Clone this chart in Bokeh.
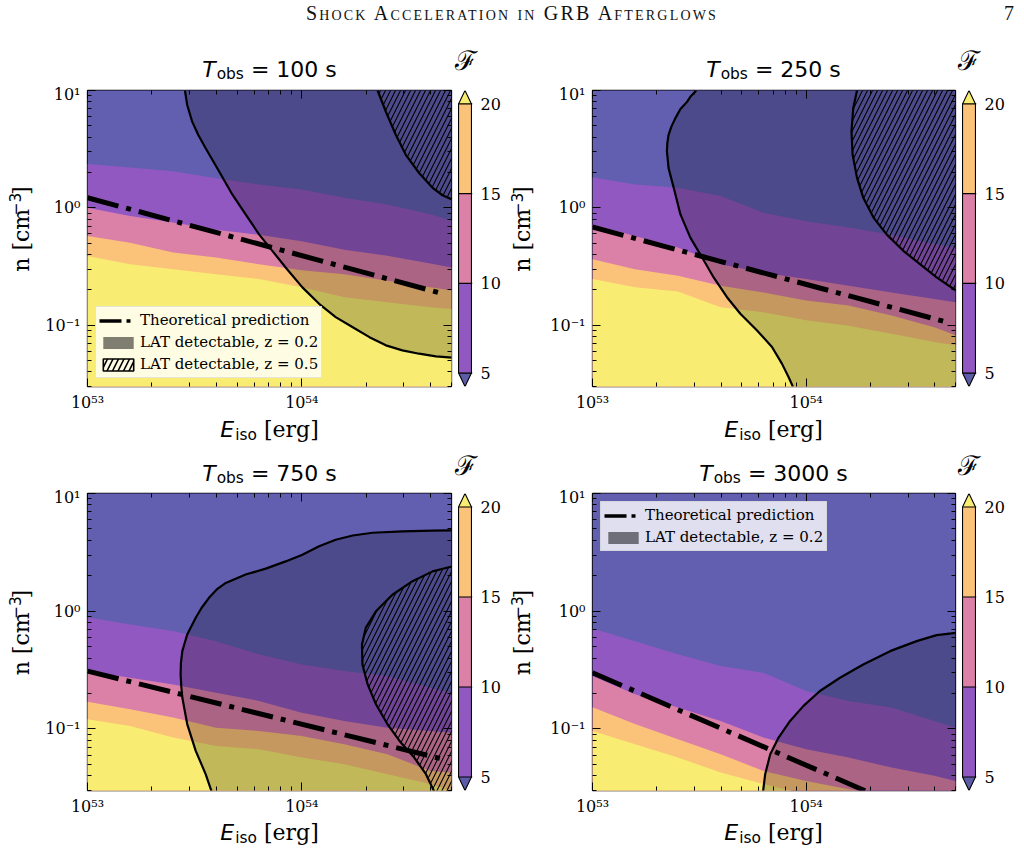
import math
from bokeh.plotting import figure
from bokeh.layouts import row, column
from bokeh.models import (Range1d, FixedTicker, LogAxis, Legend, LegendItem,
                          CustomJSTickFormatter, Div)
from bokeh.core.properties import value
from bokeh.embed import file_html
from bokeh.resources import INLINE

# ---------------------------------------------------------------- data
E_RANGE = (1.0e53, 5.0e54)          # E_iso [erg]
N_RANGE = (0.03, 10.0)              # n [cm^-3]

E_MAJOR = [1e53, 1e54]
E_MINOR = [2e53, 3e53, 4e53, 5e53, 6e53, 7e53, 8e53, 9e53, 2e54, 3e54, 4e54, 5e54]
N_MAJOR = [0.1, 1.0, 10.0]
N_MINOR = [0.03, 0.04, 0.05, 0.06, 0.07, 0.08, 0.09,
           0.2, 0.3, 0.4, 0.5, 0.6, 0.7, 0.8, 0.9,
           2, 3, 4, 5, 6, 7, 8, 9]

CB_LEVELS = [5, 10, 15, 20]          # F contour levels

T_OBS = ["100", "250", "750", "3000"]

# energy grid on which the F = 5, 10, 15, 20 contours are sampled
E_GRID = [1.0e53, 1.58e53, 2.51e53, 3.98e53, 6.31e53, 1.0e54, 1.58e54, 2.51e54, 3.98e54, 5.0e54]

# T_obs = 100 s
F5_100 = [2.36, 2.21, 2.05, 1.79, 1.58, 1.43, 1.22, 1.07, 0.88, 0.78]
F10_100 = [1.0, 0.85, 0.75, 0.65, 0.59, 0.52, 0.44, 0.39, 0.335, 0.31]
F15_100 = [0.575, 0.505, 0.416, 0.377, 0.331, 0.294, 0.272, 0.239, 0.210, 0.197]
F20_100 = [0.389, 0.331, 0.300, 0.272, 0.247, 0.210, 0.173, 0.157, 0.142, 0.137]
# T_obs = 250 s
F5_250 = [1.82, 1.58, 1.48, 1.26, 0.91, 0.77, 0.68, 0.59, 0.49, 0.46]
F10_250 = [0.72, 0.575, 0.46, 0.33, 0.28, 0.247, 0.217, 0.19, 0.167, 0.157]
F15_250 = [0.365, 0.30, 0.264, 0.217, 0.19, 0.162, 0.147, 0.121, 0.096, 0.082]
F20_250 = [0.247, 0.21, 0.194, 0.142, 0.129, 0.11, 0.099, 0.0845, 0.0718, 0.0673]
# T_obs = 750 s
F5_750 = [0.89, 0.77, 0.68, 0.557, 0.43, 0.353, 0.31, 0.281, 0.224, 0.203]
F10_750 = [0.31, 0.272, 0.239, 0.203, 0.173, 0.137, 0.117, 0.1026, 0.096, 0.093]
F15_750 = [0.17, 0.147, 0.125, 0.1026, 0.096, 0.0873, 0.0741, 0.061, 0.044, 0.0427]
F20_750 = [0.121, 0.106, 0.0845, 0.0718, 0.0673, 0.0571, 0.0502, 0.0413, 0.034, 0.0299]
# T_obs = 3000 s
F5_3000 = [0.713, 0.557, 0.43, 0.342, 0.30, 0.21, 0.173, 0.152, 0.117, 0.1026]
F10_3000 = [0.281, 0.197, 0.152, 0.117, 0.0845, 0.0673, 0.0571, 0.047, 0.040, 0.0362]
F15_3000 = [0.153, 0.11, 0.0817, 0.061, 0.044, 0.0362, 0.0308, 0.027, 0.025, 0.024]
F20_3000 = [0.096, 0.0741, 0.0571, 0.0427, 0.034, 0.0279, 0.025, 0.023, 0.021, 0.02]

# theoretical prediction n(E)
THEORY_E_100 = [1.0e53, 4.57e54]
THEORY_N_100 = [1.22, 0.185]
THEORY_E_250 = [1.0e53, 4.57e54]
THEORY_N_250 = [0.686, 0.106]
THEORY_E_750 = [1.0e53, 4.57e54]
THEORY_N_750 = [0.31, 0.0553]
THEORY_E_3000 = [1.0e53, 2.2e54]
THEORY_N_3000 = [0.30, 0.0265]

# LAT detectability boundary, z = 0.2
LAT02_E_100 = [2.85e53, 2.92e53, 3.08e53, 3.29e53, 3.56e53, 4.11e53, 4.74e53, 5.47e53, 6.32e53,
               7.29e53, 8.41e53, 1.007e54, 1.205e54, 1.44e54, 1.73e54, 2.07e54, 2.47e54,
               2.95e54, 3.53e54, 4.23e54, 5.02e54]
LAT02_N_100 = [10.0, 7.52, 5.43, 4.18, 3.22, 2.05, 1.30, 0.879, 0.594,
               0.430, 0.310, 0.210, 0.152, 0.117, 0.096, 0.079, 0.0673,
               0.061, 0.0571, 0.0542, 0.0528]
LAT02_E_250 = [3.06e53, 2.87e53, 2.77e53, 2.58e53, 2.44e53, 2.34e53, 2.27e53, 2.24e53, 2.23e53,
               2.25e53, 2.27e53, 2.40e53, 2.58e53, 2.87e53, 3.26e53, 3.69e53, 4.26e53, 4.92e53,
               5.89e53, 6.92e53, 7.70e53, 8.27e53, 8.67e53]
LAT02_N_250 = [10.0, 8.83, 8.0, 6.95, 5.79, 4.92, 4.18, 3.56, 3.02,
               2.57, 2.18, 1.48, 0.879, 0.557, 0.377, 0.255, 0.173, 0.125,
               0.090, 0.0652, 0.047, 0.0362, 0.0299]
LAT02_E_750 = [3.80e53, 3.56e53, 3.20e53, 2.92e53, 2.77e53, 2.74e53, 2.72e53, 2.73e53, 2.77e53,
               2.92e53, 3.20e53, 3.41e53, 3.69e53, 4.01e53, 4.42e53, 5.47e53, 6.79e53, 8.41e53,
               1.007e54, 1.205e54, 1.44e54, 1.73e54, 2.14e54, 2.95e54, 4.08e54, 5.02e54]
LAT02_N_750 = [0.0292, 0.0413, 0.0652, 0.110, 0.185, 0.231, 0.290, 0.365, 0.458,
               0.634, 0.879, 1.07, 1.30, 1.53, 1.74, 2.05, 2.30, 2.65,
               3.02, 3.56, 4.05, 4.40, 4.64, 4.76, 4.83, 4.86]
LAT02_E_3000 = [6.28e53, 6.43e53, 6.79e53, 7.43e53, 8.41e53, 9.72e53, 1.16e54, 1.44e54, 1.85e54,
                2.47e54, 3.29e54, 4.08e54, 5.02e54]
LAT02_N_3000 = [0.0292, 0.0413, 0.061, 0.0845, 0.117, 0.157, 0.210, 0.272, 0.353,
                0.458, 0.557, 0.627, 0.655]

# LAT detectability boundary, z = 0.5
LAT05_E_100 = [2.26e54, 2.47e54, 2.75e54, 3.06e54, 3.53e54, 4.08e54, 4.54e54, 5.02e54]
LAT05_N_100 = [10.0, 6.59, 4.18, 2.83, 1.98, 1.48, 1.28, 1.18]
LAT05_E_250 = [1.73e54, 1.66e54, 1.63e54, 1.65e54, 1.73e54, 1.85e54, 2.07e54, 2.38e54, 2.85e54,
               3.41e54, 4.08e54, 5.02e54]
LAT05_N_250 = [10.0, 7.03, 4.47, 2.83, 1.80, 1.22, 0.822, 0.594, 0.430, 0.331, 0.255, 0.197]
LAT05_E_750 = [5.02e54, 4.08e54, 3.29e54, 2.65e54, 2.22e54, 1.99e54, 1.91e54, 1.92e54, 2.03e54,
               2.22e54, 2.51e54, 2.90e54, 3.35e54, 3.80e54, 4.16e54]
LAT05_N_750 = [2.40, 2.18, 1.80, 1.38, 1.0, 0.722, 0.522, 0.353, 0.239,
               0.162, 0.110, 0.0766, 0.0571, 0.0413, 0.0292]

# ---------------------------------------------------------------- style
SANS = "DejaVu Sans"
SERIF = "DejaVu Serif"
C_BELOW5 = "#625fb1"
C_5_10 = "#9158c1"
C_10_15 = "#db81a8"
C_15_20 = "#fbc37a"
C_ABOVE20 = "#f8ed72"
BAND_COLORS = [C_5_10, C_10_15, C_15_20]

N_FLOOR, N_CEIL = 1e-3, 1e3           # fill extents beyond the visible window
E_EDGE, N_LO_EDGE, N_HI_EDGE = 6e54, 0.02, 12.0
E_OFF, N_OFF = 1e40, 1e-8             # legend-only glyphs, outside the window

TXT = 22      # label / title size (px)
SUB = 15.4    # sub/superscript size (px)
BASE_K = 0.36  # anchor-to-baseline correction, in em

SUP_FORMAT = CustomJSTickFormatter(code="""
const sup = {"0":"\\u2070","1":"\\u00b9","2":"\\u00b2","3":"\\u00b3","4":"\\u2074",
             "5":"\\u2075","6":"\\u2076","7":"\\u2077","8":"\\u2078","9":"\\u2079","-":"\\u207b"};
const e = Math.round(Math.log10(tick));
return "10" + String(e).split("").map(c => sup[c]).join("");
""")


def strip(w, h):
    """A blank figure whose data units are its own pixels, used to hold text."""
    s = figure(width=w, height=h, x_range=Range1d(0, w), y_range=Range1d(0, h),
               toolbar_location=None, output_backend="svg", min_border=0,
               x_axis_location=None, y_axis_location=None)
    s.grid.visible = False
    s.outline_line_color = None
    s.background_fill_color = "white"
    s.border_fill_color = "white"
    return s


def put(s, x, y, txt, font, size, style="normal", angle=0.0, align="left"):
    shift = BASE_K * size
    if angle == 0.0:
        y = y + shift
    else:
        x = x - shift
    s.text(x=[x], y=[y], text=[txt], text_font=value(font), text_font_size=value(f"{size}px"),
           text_font_style=style, text_align=align, text_baseline="alphabetic",
           angle=angle, text_color="black")


def title_strip(w, h, cx, yb, tobs, fx, fy):
    s = strip(w, h)
    w_t = 0.611 * TXT
    w_sub = (0.612 + 0.635 + 0.521) * SUB
    w_sp = 0.318 * TXT
    w_rest = TXT * (0.838 + 0.318 * 2 + 0.521 + 0.636 * len(tobs))
    x0 = cx - (w_t + 1 + w_sub + w_sp + w_rest) / 2
    put(s, x0, yb, "T", SANS, TXT, "italic")
    put(s, x0 + w_t + 1, yb - 2.5, "obs", SANS, SUB)
    put(s, x0 + w_t + 1 + w_sub + w_sp, yb, f"= {tobs} s", SANS, TXT)
    put(s, fx, fy, "\u2131", SERIF, 27, align="center")
    return s


def xlabel_strip(w, h, cx, yb):
    s = strip(w, h)
    w_e = 0.632 * TXT
    w_iso = (0.278 + 0.521 + 0.612) * SUB
    w_sp = 0.318 * TXT
    w_erg = 2.49 * TXT
    x0 = cx - (w_e + 1 + w_iso + w_sp + w_erg) / 2
    put(s, x0, yb, "E", SANS, TXT, "italic")
    put(s, x0 + w_e + 1, yb - 3.5, "iso", SANS, SUB)
    put(s, x0 + w_e + 1 + w_iso + w_sp, yb, "[erg]", SERIF, TXT)
    return s


def ylabel_strip(w, h, xb, cy):
    s = strip(w, h)
    w1 = 2.86 * TXT
    w2 = (0.838 + 0.636) * SUB
    w3 = 0.390 * TXT
    y0 = cy - (w1 + w2 + w3) / 2
    rot = math.pi / 2
    put(s, xb, y0, "n [cm", SERIF, TXT, angle=rot)
    put(s, xb - 8, y0 + w1, "\u22123", SANS, SUB, angle=rot)
    put(s, xb, y0 + w1 + w2, "]", SERIF, TXT, angle=rot)
    return s


def style_axis(ax, labels=True, standoff=5):
    ax.major_tick_in = 8
    ax.major_tick_out = 0
    ax.minor_tick_in = 4
    ax.minor_tick_out = 0
    ax.major_tick_line_color = "black"
    ax.minor_tick_line_color = "black"
    ax.axis_line_color = None
    ax.axis_label = None
    if labels:
        ax.formatter = SUP_FORMAT
        ax.major_label_text_font = SERIF
        ax.major_label_text_font_size = "16px"
        ax.major_label_text_color = "black"
        ax.major_label_standoff = standoff
    else:
        ax.formatter = CustomJSTickFormatter(code="return '';")
        ax.major_label_standoff = 0
        ax.major_label_text_font_size = "0px"


def make_panel(f5, f10, f15, f20, th_e, th_n, l2e, l2n, l2_close,
               l5e=None, l5n=None, l5_close=None,
               width=414, height=330, left=47, top=6, bottom=26,
               legend_loc=None, with_hatch_entry=True):
    p = figure(width=width, height=height, x_axis_type="log", y_axis_type="log",
               x_range=Range1d(*E_RANGE), y_range=Range1d(*N_RANGE),
               output_backend="svg", toolbar_location=None,
               min_border_left=left, min_border_right=3, min_border_top=top,
               min_border_bottom=bottom)
    p.grid.visible = False
    p.outline_line_color = "black"
    p.outline_line_width = 1.3
    p.background_fill_color = "white"
    p.border_fill_color = "white"

    p.xaxis.ticker = FixedTicker(ticks=E_MAJOR, minor_ticks=E_MINOR)
    p.yaxis.ticker = FixedTicker(ticks=N_MAJOR, minor_ticks=N_MINOR)
    style_axis(p.xaxis[0], standoff=6)
    style_axis(p.yaxis[0], standoff=7)
    top_ax = LogAxis(ticker=FixedTicker(ticks=E_MAJOR, minor_ticks=E_MINOR))
    right_ax = LogAxis(ticker=FixedTicker(ticks=N_MAJOR, minor_ticks=N_MINOR))
    style_axis(top_ax, labels=False)
    style_axis(right_ax, labels=False)
    p.add_layout(top_ax, "above")
    p.add_layout(right_ax, "right")

    # filled F bands (stacked from the top down)
    n = len(E_GRID)
    lo = [N_FLOOR] * n
    hi = [N_CEIL] * n
    p.varea(x=E_GRID, y1=lo, y2=hi, fill_color=C_BELOW5)
    p.varea(x=E_GRID, y1=lo, y2=f5, fill_color=C_5_10)
    p.varea(x=E_GRID, y1=lo, y2=f10, fill_color=C_10_15)
    p.varea(x=E_GRID, y1=lo, y2=f15, fill_color=C_15_20)
    p.varea(x=E_GRID, y1=lo, y2=f20, fill_color=C_ABOVE20)

    # LAT z = 0.2 region
    px = list(l2e) + [c[0] for c in l2_close]
    py = list(l2n) + [c[1] for c in l2_close]
    p.patch(x=px, y=py, fill_color="black", fill_alpha=0.22, line_color=None)
    p.line(x=l2e, y=l2n, line_color="black", line_width=2.2)

    # LAT z = 0.5 region
    if l5e is not None:
        hx = list(l5e) + [c[0] for c in l5_close]
        hy = list(l5n) + [c[1] for c in l5_close]
        p.patch(x=hx, y=hy, fill_color=None, line_color=None,
                hatch_pattern="/", hatch_color="black", hatch_scale=10, hatch_weight=1.1)
        p.line(x=l5e, y=l5n, line_color="black", line_width=2.2)

    # theoretical prediction
    p.line(x=th_e, y=th_n, line_color="black", line_width=5, line_dash="32 8 5 8")

    # legend
    if legend_loc is not None:
        r_line = p.line(x=[E_OFF, E_OFF * 2], y=[N_OFF, N_OFF], line_color="black",
                        line_width=3.5, line_dash="22 5 4 60")
        r_gray = p.quad(left=[E_OFF], right=[E_OFF * 2], bottom=[N_OFF], top=[N_OFF * 2],
                        fill_color="black", fill_alpha=0.5, line_color=None)
        items = [LegendItem(label="Theoretical prediction", renderers=[r_line]),
                 LegendItem(label="LAT detectable, z = 0.2", renderers=[r_gray])]
        if with_hatch_entry:
            r_hatch = p.quad(left=[E_OFF], right=[E_OFF * 2], bottom=[N_OFF], top=[N_OFF * 2],
                             fill_color="white", fill_alpha=0.0, hatch_pattern="/",
                             hatch_color="black", hatch_scale=11, hatch_weight=1.6,
                             line_color="black", line_width=1.6)
            items.append(LegendItem(label="LAT detectable, z = 0.5", renderers=[r_hatch]))
        leg = Legend(items=items, location=legend_loc, margin=8, padding=3, spacing=2,
                     glyph_width=38, glyph_height=15, label_height=20, label_standoff=3,
                     label_text_font=SERIF, label_text_font_size="15px",
                     label_text_color="black", background_fill_color="white",
                     background_fill_alpha=0.8, border_line_color="#cccccc",
                     border_line_width=1)
        p.add_layout(leg)
    return p


def make_cbar(width, height, left, right, top, bottom):
    c = figure(width=width, height=height, x_range=Range1d(-0.08, 1.08),
               y_range=Range1d(4.25, 20.75), x_axis_location=None, y_axis_location="right",
               toolbar_location=None, output_backend="svg",
               min_border_left=left, min_border_right=right, min_border_top=top,
               min_border_bottom=bottom)
    c.grid.visible = False
    c.outline_line_color = None
    c.background_fill_color = "white"
    c.border_fill_color = "white"
    c.quad(left=0, right=1, bottom=CB_LEVELS[:-1], top=CB_LEVELS[1:],
           fill_color=BAND_COLORS, line_color=None)
    c.patch(x=[0, 1, 0.5], y=[CB_LEVELS[0], CB_LEVELS[0], 4.25], fill_color="#5d5ca9",
            line_color=None)
    c.patch(x=[0, 1, 0.5], y=[CB_LEVELS[-1], CB_LEVELS[-1], 20.75], fill_color=C_ABOVE20,
            line_color=None)
    c.segment(x0=[0] * len(CB_LEVELS), x1=[1.08] * len(CB_LEVELS), y0=CB_LEVELS, y1=CB_LEVELS,
              line_color="black", line_width=1.2)
    c.line(x=[0, 0.5, 1, 1, 0.5, 0, 0], y=[5, 4.25, 5, 20, 20.75, 20, 5],
           line_color="black", line_width=1.1)
    ax = c.yaxis[0]
    ax.ticker = FixedTicker(ticks=CB_LEVELS, minor_ticks=[])
    ax.major_tick_in = 0
    ax.major_tick_out = 0
    ax.minor_tick_in = 0
    ax.minor_tick_out = 0
    ax.axis_line_color = None
    ax.major_label_standoff = 8
    ax.major_label_text_font = SERIF
    ax.major_label_text_font_size = "16px"
    ax.major_label_text_color = "black"
    return c


def panel_block(tobs, main, is_right, is_bottom):
    # left blocks span x 0..504, right blocks 504..1024
    if not is_right:
        bw, ylw, cw, cx, fx, ylx = 504, 40, 50, 269, 465, 28.5
    else:
        bw, ylw, cw, cx, fx, ylx = 520, 43, 66, 269, 464.5, 26
    if not is_bottom:
        th, mh, xh, t_yb, f_yb, x_yb, ycy = 44, 330, 36, 7, 14, 13, 175
    else:
        th, mh, xh, t_yb, f_yb, x_yb, ycy = 37, 331, 41, 6.5, 12, 19, 175.5
    cb = make_cbar(cw, mh, 3, cw - 18, 6, 26)
    return column(title_strip(bw, th, cx, t_yb, tobs, fx, f_yb),
                  row(ylabel_strip(ylw, mh, ylx, ycy), main, cb),
                  xlabel_strip(bw, xh, cx, x_yb))


p1 = make_panel(F5_100, F10_100, F15_100, F20_100, THEORY_E_100, THEORY_N_100,
                LAT02_E_100, LAT02_N_100, [(E_EDGE, N_HI_EDGE)],
                LAT05_E_100, LAT05_N_100, [(E_EDGE, N_HI_EDGE)],
                width=414, height=330, left=47,
                legend_loc="bottom_left", with_hatch_entry=True)
p2 = make_panel(F5_250, F10_250, F15_250, F20_250, THEORY_E_250, THEORY_N_250,
                LAT02_E_250, LAT02_N_250, [(E_EDGE, N_LO_EDGE), (E_EDGE, N_HI_EDGE)],
                LAT05_E_250, LAT05_N_250, [(E_EDGE, N_HI_EDGE)],
                width=411, height=330, left=44)
p3 = make_panel(F5_750, F10_750, F15_750, F20_750, THEORY_E_750, THEORY_N_750,
                LAT02_E_750, LAT02_N_750, [(E_EDGE, N_LO_EDGE)],
                LAT05_E_750, LAT05_N_750, [(E_EDGE, N_LO_EDGE)],
                width=414, height=331, left=47)
p4 = make_panel(F5_3000, F10_3000, F15_3000, F20_3000, THEORY_E_3000, THEORY_N_3000,
                LAT02_E_3000, LAT02_N_3000, [(E_EDGE, N_LO_EDGE)],
                width=411, height=331, left=44,
                legend_loc="top_left", with_hatch_entry=False)

header = Div(
    text=('<div style="position:relative;width:1024px;height:40px;">'
          '<span style="position:absolute;left:0;top:-1px;width:1024px;text-align:center;'
          'font-family:\'Liberation Serif\';font-size:20px;letter-spacing:2.2px;'
          'font-variant:small-caps;color:#111;">'
          'Shock Acceleration in GRB Afterglows</span>'
          '<span style="position:absolute;left:1004px;top:-1px;font-family:\'Liberation Serif\';'
          'font-size:20px;color:#111;">7</span></div>'),
    width=1024, height=40, margin=(0, 0, 0, 0))

layout = column(header,
                row(panel_block(T_OBS[0], p1, False, False), panel_block(T_OBS[1], p2, True, False)),
                row(panel_block(T_OBS[2], p3, False, True), panel_block(T_OBS[3], p4, True, True)))

open("out.html", "w", encoding="utf-8").write(file_html(layout, INLINE))
